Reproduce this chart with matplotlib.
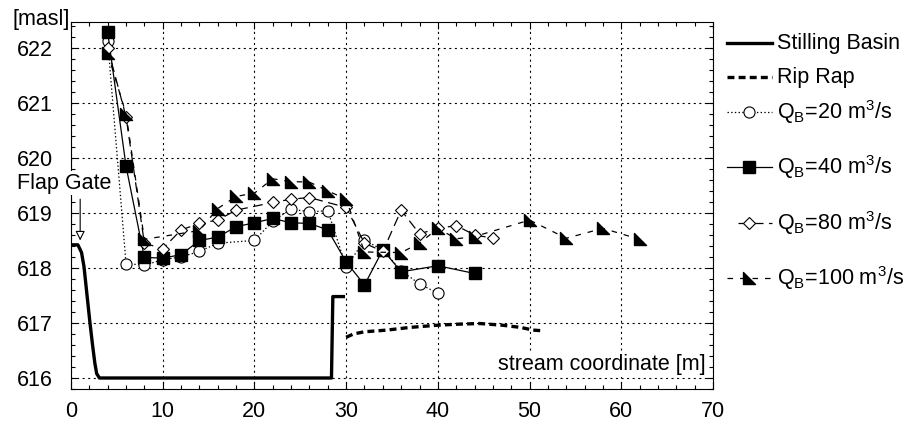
import matplotlib
matplotlib.use("Agg")
import matplotlib.pyplot as plt
from matplotlib.lines import Line2D
from matplotlib.path import Path
import numpy as np

plt.rcParams['font.family'] = ['Liberation Sans', 'DejaVu Sans']
plt.rcParams['mathtext.fontset'] = 'custom'
plt.rcParams['mathtext.rm'] = 'Liberation Sans'
plt.rcParams['lines.scale_dashes'] = False

# ---- data ----
basin_x = [0, 0.75, 1.15, 1.42, 1.75, 2.07, 2.35, 2.6, 2.8, 3.1, 28.4, 28.55, 29.7]
basin_y = [618.42, 618.42, 618.28, 618.02, 617.5, 617.0, 616.6, 616.27, 616.08, 616.0, 616.0, 617.48, 617.48]

riprap_x = [30, 30.8, 32, 34.4, 37, 40, 42.5, 44.6, 47, 49, 50.4, 51.3]
riprap_y = [616.74, 616.8, 616.84, 616.87, 616.92, 616.96, 616.98, 616.99, 616.96, 616.92, 616.87, 616.86]

q20_x = [4, 6, 8, 10, 12, 14, 16, 20, 22, 24, 26, 28, 30, 32, 34, 36, 38, 40]
q20_y = [622.13, 618.08, 618.05, 618.15, 618.2, 618.3, 618.45, 618.5, 618.85, 619.07, 619.02, 619.04,
         618.02, 618.5, 618.33, 617.95, 617.71, 617.54]

q40_x = [4, 6, 8, 10, 12, 14, 16, 18, 20, 22, 24, 26, 28, 30, 32, 34, 36, 40, 44]
q40_y = [622.28, 619.85, 618.19, 618.18, 618.24, 618.5, 618.56, 618.75, 618.82, 618.9, 618.82, 618.81,
         618.69, 618.11, 617.69, 618.33, 617.93, 618.04, 617.9]

q80_x = [4, 6, 8, 10, 12, 14, 16, 18, 22, 24, 26, 30, 32, 34, 36, 38, 40, 42, 44, 46]
q80_y = [622.0, 620.75, 618.45, 618.35, 618.69, 618.81, 618.87, 619.05, 619.19, 619.25, 619.28, 619.1,
         618.45, 618.3, 619.05, 618.62, 618.72, 618.77, 618.6, 618.54]

q100_x = [4, 6, 8, 14, 16, 18, 20, 22, 24, 26, 28, 30, 32, 36, 38, 40, 42, 44, 50, 54, 58, 62]
q100_y = [621.9, 620.8, 618.52, 618.68, 619.08, 619.3, 619.36, 619.62, 619.57, 619.56, 619.4, 619.25,
          618.29, 618.28, 618.45, 618.72, 618.53, 618.57, 618.87, 618.54, 618.72, 618.52]

legend_labels = ['Stilling Basin', 'Rip Rap',
                 r'Q$_\mathregular{B}$=20 m$^\mathregular{3}$/s',
                 r'Q$_\mathregular{B}$=40 m$^\mathregular{3}$/s',
                 r'Q$_\mathregular{B}$=80 m$^\mathregular{3}$/s',
                 r'Q$_\mathregular{B}$=100 m$^\mathregular{3}$/s']

FS = 15.5
W, H = 910, 426
fig = plt.figure(figsize=(W / 100, H / 100), dpi=100)
ax = fig.add_axes([71 / W, 1 - 389 / H, (713 - 71) / W, (389 - 22) / H])

tri = Path([(-1, 1), (-1, -1), (1, -1), (-1, 1)], [Path.MOVETO, Path.LINETO, Path.LINETO, Path.CLOSEPOLY])

styles = {
    'basin': dict(color='black', lw=2.4, solid_joinstyle='round'),
    'riprap': dict(color='black', lw=2.4, dashes=(5, 3)),
    'q20': dict(color='black', lw=0.9, ls=':', marker='o', ms=8, mfc='white', mec='black', mew=0.8),
    'q40': dict(color='black', lw=0.9, ls='-', marker='s', ms=9, mfc='black', mec='black'),
    'q80': dict(color='black', lw=0.9, dashes=(7, 4), marker='D', ms=6.5, mfc='white', mec='black', mew=0.8),
    'q100': dict(color='black', lw=0.9, dashes=(4, 5), marker=tri, ms=9, mfc='black', mec='black'),
}

ax.plot(basin_x, basin_y, zorder=3, **styles['basin'])
ax.plot(riprap_x, riprap_y, zorder=3, **styles['riprap'])
ax.plot(q20_x, q20_y, zorder=4, **styles['q20'])
ax.plot(q40_x, q40_y, zorder=5, **styles['q40'])
ax.plot(q80_x, q80_y, zorder=6, **styles['q80'])
ax.plot(q100_x, q100_y, zorder=7, **styles['q100'])

ax.set_xlim(0, 70)
ax.set_ylim(615.8, 622.47)
ax.set_xticks(np.arange(0, 71, 10))
ax.set_xticks(np.arange(0, 71, 2), minor=True)
ax.set_yticks(np.arange(616, 623, 1))
ax.set_yticks(np.arange(615.8, 622.5, 0.2), minor=True)
ax.tick_params(which='both', direction='in', top=True, right=True, labelsize=FS, color='black')
ax.tick_params(which='major', length=5, width=0.8)
ax.tick_params(which='minor', length=3, width=0.8)
ax.tick_params(axis='x', pad=8.5)
ax.tick_params(axis='y', pad=13)
ax.grid(True, which='major', ls=(0, (1.5, 2.5)), color='black', lw=0.8)
for s in ax.spines.values():
    s.set_linewidth(0.8)

bb = dict(facecolor='white', edgecolor='none', pad=1)
ax.text(57.9, 616.14, 'stream coordinate [m]', fontsize=FS, ha='center', va='baseline',
        bbox=bb, zorder=8)
fig.text(70 / W, 1 - 20 / H, '[masl]', fontsize=FS, ha='right', va='center')
fig.text(64 / W, 1 - 183 / H, 'Flap Gate', fontsize=FS, ha='center', va='center', bbox=bb, zorder=10)
ax.annotate('', xy=(1.0, 618.5), xytext=(1.0, 619.25),
            arrowprops=dict(arrowstyle='-|>', fc='white', ec='black', lw=0.8, mutation_scale=14,
                            shrinkA=0, shrinkB=0), zorder=9)

# legend drawn manually in figure pixel coordinates
def fx(px):
    return px / W

def fy(py):
    return 1 - py / H

leg_y = [43, 77, 112, 167, 223, 278]
keys = ['basin', 'riprap', 'q20', 'q40', 'q80', 'q100']
for key, y, lab in zip(keys, leg_y, legend_labels):
    st = dict(styles[key])
    mk = st.pop('marker', None)
    mstyle = {k: st.pop(k) for k in ['ms', 'mfc', 'mec', 'mew'] if k in st}
    x0 = 738 if key == 'q80' else 727
    fig.add_artist(Line2D([fx(x0), fx(772)], [fy(y), fy(y)], transform=fig.transFigure, **st))
    if mk is not None:
        fig.add_artist(Line2D([fx(749)], [fy(y)], transform=fig.transFigure, ls='none', marker=mk, **mstyle))
    fig.text(fx(777), fy(y), lab, fontsize=FS, ha='left', va='center')

fig.savefig('out.png', dpi=100)
